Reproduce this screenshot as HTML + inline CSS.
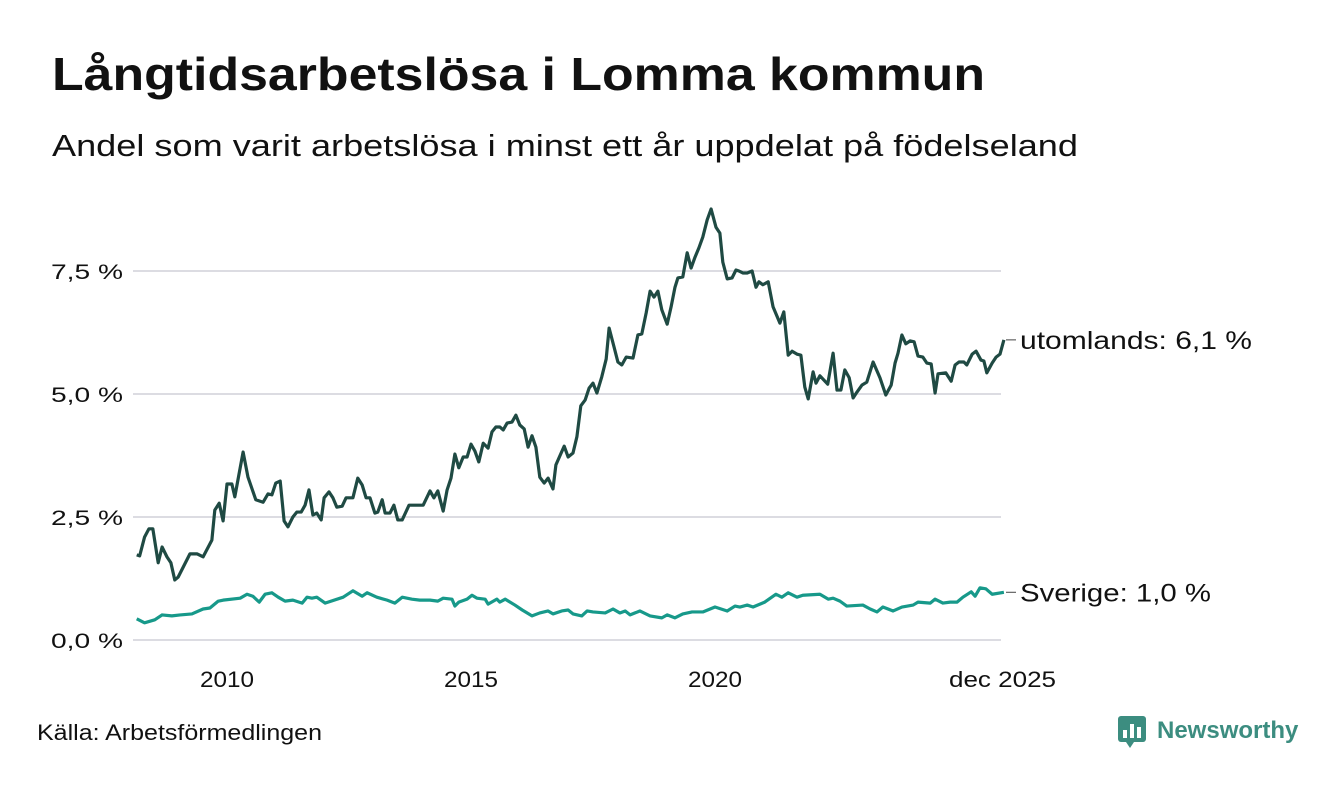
<!DOCTYPE html>
<html><head><meta charset="utf-8">
<style>
body{margin:0;background:#fff;width:1340px;height:780px;overflow:hidden;font-family:"Liberation Sans",sans-serif;color:#111}
</style></head>
<body>
<svg width="1340" height="780" xmlns="http://www.w3.org/2000/svg">
<text x="52" y="90" font-size="46" font-weight="bold" fill="#111" textLength="933" lengthAdjust="spacingAndGlyphs">Långtidsarbetslösa i Lomma kommun</text>
<text x="52" y="156" font-size="31" fill="#111" textLength="1026" lengthAdjust="spacingAndGlyphs">Andel som varit arbetslösa i minst ett år uppdelat på födelseland</text>
<g id="grid"></g><g id="lines"></g>
<text x="37" y="740" font-size="22" fill="#111" textLength="285" lengthAdjust="spacingAndGlyphs">Källa: Arbetsförmedlingen</text>
<g>
<rect x="1118" y="716" width="28" height="26" rx="3" fill="#3c8d80"/>
<polygon points="1126,742 1134,742 1130,748" fill="#3c8d80"/>
<rect x="1123" y="730" width="4" height="8" fill="#fff"/><rect x="1130" y="724" width="4" height="14" fill="#fff"/><rect x="1137" y="727" width="4" height="11" fill="#fff"/>
<text x="1157" y="738" font-size="24" font-weight="bold" fill="#3c8d80">Newsworthy</text>
</g>
</svg>
<script>
const yTicks=[0,2.5,5,7.5];
const yTickLabels=["0,0 %","2,5 %","5,0 %","7,5 %"];
const xTicks=[2010,2015,2020,2025.92];
const xTickLabels=["2010","2015","2020","dec 2025"];
const abroadDates=[2008.15,2008.21,2008.31,2008.40,2008.48,2008.59,2008.67,2008.77,2008.85,2008.93,2009.00,2009.24,2009.39,2009.51,2009.69,2009.75,2009.84,2009.92,2010.00,2010.10,2010.16,2010.33,2010.43,2010.59,2010.74,2010.84,2010.92,2011.00,2011.09,2011.17,2011.25,2011.35,2011.43,2011.52,2011.60,2011.68,2011.76,2011.84,2011.93,2011.99,2012.09,2012.17,2012.25,2012.36,2012.44,2012.58,2012.68,2012.77,2012.85,2012.93,2013.03,2013.09,2013.18,2013.24,2013.34,2013.42,2013.50,2013.59,2013.73,2014.02,2014.16,2014.24,2014.32,2014.43,2014.51,2014.59,2014.67,2014.75,2014.84,2014.92,2015.00,2015.08,2015.16,2015.25,2015.35,2015.43,2015.51,2015.59,2015.66,2015.74,2015.84,2015.92,2016.00,2016.09,2016.17,2016.25,2016.33,2016.41,2016.50,2016.58,2016.68,2016.74,2016.82,2016.91,2016.99,2017.09,2017.17,2017.25,2017.34,2017.42,2017.50,2017.58,2017.68,2017.77,2017.83,2017.93,2018.01,2018.09,2018.18,2018.32,2018.42,2018.50,2018.59,2018.67,2018.75,2018.83,2018.91,2019.02,2019.10,2019.18,2019.24,2019.34,2019.43,2019.51,2019.59,2019.67,2019.75,2019.84,2019.92,2020.02,2020.10,2020.16,2020.25,2020.35,2020.43,2020.49,2020.57,2020.66,2020.76,2020.84,2020.90,2020.98,2021.09,2021.19,2021.33,2021.41,2021.50,2021.58,2021.68,2021.76,2021.84,2021.91,2022.01,2022.07,2022.15,2022.31,2022.42,2022.50,2022.58,2022.66,2022.75,2022.83,2022.91,2023.01,2023.11,2023.24,2023.38,2023.50,2023.61,2023.69,2023.75,2023.83,2023.91,2024.00,2024.08,2024.16,2024.26,2024.34,2024.43,2024.51,2024.57,2024.73,2024.84,2024.92,2025.00,2025.10,2025.16,2025.27,2025.35,2025.45,2025.51,2025.57,2025.68,2025.76,2025.84,2025.92];
const abroadValues=[1.73,1.71,2.09,2.26,2.26,1.57,1.89,1.69,1.57,1.22,1.28,1.75,1.75,1.69,2.03,2.64,2.78,2.42,3.17,3.17,2.91,3.82,3.31,2.85,2.80,2.97,2.95,3.19,3.23,2.42,2.30,2.50,2.60,2.60,2.74,3.05,2.54,2.58,2.44,2.89,3.01,2.89,2.70,2.72,2.89,2.89,3.29,3.15,2.89,2.89,2.58,2.60,2.85,2.58,2.58,2.74,2.44,2.44,2.74,2.74,3.03,2.89,3.03,2.62,3.05,3.29,3.78,3.50,3.72,3.72,3.98,3.84,3.62,4.00,3.90,4.23,4.33,4.33,4.27,4.41,4.43,4.57,4.37,4.29,3.92,4.15,3.92,3.31,3.19,3.29,3.07,3.56,3.74,3.94,3.72,3.80,4.13,4.76,4.88,5.12,5.22,5.02,5.35,5.71,6.34,5.96,5.65,5.59,5.75,5.73,6.20,6.22,6.65,7.09,6.97,7.09,6.71,6.42,6.77,7.17,7.36,7.38,7.87,7.56,7.78,7.97,8.19,8.54,8.76,8.39,8.27,7.68,7.34,7.36,7.52,7.50,7.46,7.46,7.50,7.17,7.28,7.22,7.28,6.77,6.44,6.67,5.79,5.87,5.81,5.79,5.14,4.90,5.45,5.22,5.37,5.20,5.83,5.08,5.08,5.49,5.33,4.92,5.04,5.18,5.24,5.65,5.33,4.98,5.18,5.63,5.83,6.20,6.02,6.08,6.06,5.77,5.75,5.63,5.61,5.02,5.41,5.43,5.26,5.59,5.65,5.65,5.59,5.81,5.87,5.69,5.67,5.43,5.63,5.75,5.81,6.10];
const swedenDates=[2008.15,2008.31,2008.52,2008.67,2008.87,2009.04,2009.28,2009.51,2009.65,2009.82,2009.92,2010.27,2010.41,2010.53,2010.66,2010.78,2010.92,2011.05,2011.19,2011.35,2011.54,2011.64,2011.74,2011.84,2012.01,2012.38,2012.58,2012.77,2012.87,2013.07,2013.28,2013.44,2013.59,2013.79,2013.95,2014.16,2014.32,2014.43,2014.61,2014.67,2014.75,2014.92,2015.02,2015.12,2015.29,2015.35,2015.53,2015.59,2015.70,2015.90,2016.05,2016.25,2016.41,2016.58,2016.68,2016.86,2016.99,2017.09,2017.27,2017.38,2017.50,2017.75,2017.91,2018.05,2018.16,2018.26,2018.46,2018.67,2018.91,2019.02,2019.18,2019.34,2019.53,2019.75,2020.00,2020.25,2020.41,2020.51,2020.66,2020.78,2021.02,2021.25,2021.37,2021.50,2021.68,2021.80,2022.15,2022.32,2022.42,2022.56,2022.70,2023.03,2023.18,2023.32,2023.44,2023.65,2023.83,2024.06,2024.16,2024.41,2024.51,2024.67,2024.82,2024.96,2025.08,2025.25,2025.33,2025.43,2025.55,2025.68,2025.92];
const swedenValues=[0.43,0.35,0.41,0.51,0.49,0.51,0.53,0.63,0.65,0.79,0.81,0.85,0.93,0.89,0.77,0.93,0.96,0.87,0.79,0.81,0.75,0.87,0.85,0.87,0.75,0.87,1.00,0.89,0.96,0.87,0.81,0.75,0.87,0.83,0.81,0.81,0.79,0.85,0.83,0.69,0.77,0.83,0.91,0.85,0.83,0.73,0.83,0.77,0.83,0.71,0.61,0.49,0.55,0.59,0.53,0.59,0.61,0.53,0.49,0.59,0.57,0.55,0.63,0.55,0.59,0.51,0.59,0.49,0.45,0.51,0.45,0.53,0.57,0.57,0.67,0.59,0.69,0.67,0.71,0.67,0.77,0.93,0.87,0.96,0.87,0.91,0.93,0.83,0.85,0.79,0.69,0.71,0.63,0.57,0.67,0.59,0.67,0.71,0.77,0.75,0.83,0.75,0.77,0.77,0.87,0.98,0.89,1.06,1.04,0.93,0.97];
const NS="http://www.w3.org/2000/svg";
const X=y=>227+(y-2010)*48.8;
const Y=v=>640-v*49.2;
function mk(tag,at,parent){const e=document.createElementNS(NS,tag);for(const k in at)e.setAttribute(k,at[k]);parent.appendChild(e);return e;}
const grid=document.getElementById('grid'),lines=document.getElementById('lines');
yTicks.forEach((t,i)=>{
  const l=mk('line',{x1:133,x2:1001,y1:Y(t),y2:Y(t),stroke:'#dcdce2','stroke-width':2},grid);
  
  
  const tx=mk('text',{x:123,y:Y(t)+8,'font-size':21,'text-anchor':'end',fill:'#111',textLength:72,lengthAdjust:'spacingAndGlyphs'},grid);
  tx.textContent=yTickLabels[i];
  
  
});
xTicks.forEach((t,i)=>{
  const last=i===xTicks.length-1;
  const tx=mk('text',{x:last?1056:X(t),y:687,'font-size':22,'text-anchor':last?'end':'middle',fill:'#111',textLength:last?107:54,lengthAdjust:'spacingAndGlyphs'},grid);
  tx.textContent=xTickLabels[i];
  
  
});
function series(d,v,color,name,label,len){
  const p=mk('polyline',{points:d.map((x,i)=>X(x)+','+Y(v[i])).join(' '),fill:'none',stroke:color,'stroke-width':3.2,'stroke-linejoin':'round'},lines);
  
  
  const ey=Y(v[v.length-1]);
  const t=mk('line',{x1:1006,x2:1016,y1:ey,y2:ey,stroke:'#444','stroke-width':1},lines);
  
  
  const tx=mk('text',{x:1020,y:ey+9,'font-size':25,fill:'#111',textLength:len,lengthAdjust:'spacingAndGlyphs'},lines);
  tx.textContent=label+': '+v[v.length-1].toFixed(1).replace('.',',')+' %';
  
  
}
series(abroadDates,abroadValues,'#1f4a43','utomlands','utomlands',232);
series(swedenDates,swedenValues,'#17998a','sverige','Sverige',191);
</script>
</body></html>
